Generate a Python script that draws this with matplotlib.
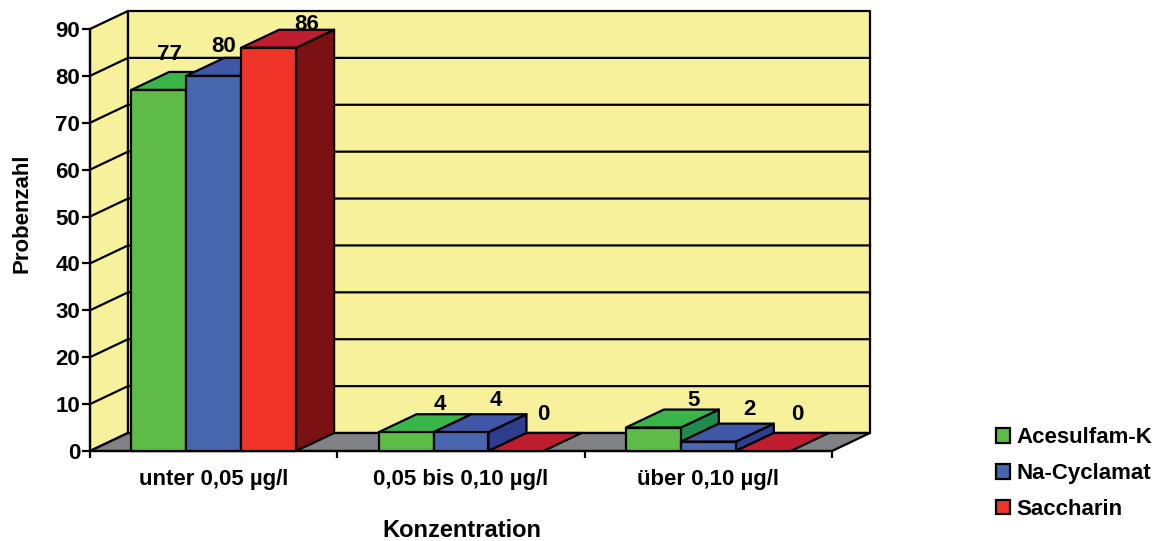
import matplotlib
matplotlib.use("Agg")
from matplotlib import pyplot as plt
from matplotlib.patches import Patch, Polygon

categories = ['unter 0,05 µg/l', '0,05 bis 0,10 µg/l', 'über 0,10 µg/l']
series = ['Acesulfam-K', 'Na-Cyclamat', 'Saccharin']
acesulfam = [77, 4, 5]
cyclamat = [80, 4, 2]
saccharin = [86, 0, 0]
values = [acesulfam, cyclamat, saccharin]
yticks = list(range(0, 100, 10))

# front, top, side shade of each series
colors = [('#5EBB47', '#39B54A', '#1E8C4B'),
          ('#4667AE', '#3F57A6', '#2E3E8F'),
          ('#EF3529', '#BE1E2D', '#7B1113')]
wall = '#F7F19B'
floor = '#808285'

# value label offsets in pixels from the centre of the bar top
label_shift = [[(-8, 26), (-9, 20), (19, 14)],
               [(15, 19), (16, 23), (8, 28)],
               [(21, 18), (22, 23), (15, 28)]]

W, H = 1162, 541
X0, X1, Y0, Y1 = 90, 832, 451, 29
lw = 1.6
fig = plt.figure(figsize=(W / 100, H / 100), dpi=100)
plt.rcParams['font.family'] = 'Liberation Sans'
plt.rcParams['font.weight'] = 'bold'
ax = fig.add_axes([X0 / W, 1 - Y0 / H, (X1 - X0) / W, (Y0 - Y1) / H])
ax.patch.set_visible(False)
ax.set_xlim(0, 3)
ax.set_ylim(0, 90)

# depth of the 3d box in data units
dx = 38 / ((X1 - X0) / 3)
dy = 18 / ((Y0 - Y1) / 90)


def face(points, color, z):
    ax.add_patch(Polygon(points, closed=True, facecolor=color, edgecolor='black',
                         linewidth=lw, joinstyle='round', clip_on=False, zorder=z))


# walls and floor
face([(0, 0), (dx, dy), (dx, 90 + dy), (0, 90)], wall, 1)
face([(dx, dy), (3 + dx, dy), (3 + dx, 90 + dy), (dx, 90 + dy)], wall, 1)
face([(0, 0), (3, 0), (3 + dx, dy), (dx, dy)], floor, 1.2)

for v in yticks[1:-1]:
    ax.plot([0, dx, 3 + dx], [v, v + dy, v + dy], color='black', lw=lw,
            clip_on=False, zorder=1.1)

# bars, left to right so neighbours overlap properly
bar_w = 1 / 4.5
margin = (1 - 3 * bar_w) / 2
z = 3
for c in range(len(categories)):
    for s in range(len(series)):
        v = values[s][c]
        left = c + margin + s * bar_w
        right = left + bar_w
        front, top, side = colors[s]
        if v > 0:
            face([(right, 0), (right + dx, dy), (right + dx, v + dy), (right, v)], side, z)
        face([(left, v), (right, v), (right + dx, v + dy), (left + dx, v + dy)], top, z + 0.1)
        if v > 0:
            face([(left, 0), (right, 0), (right, v), (left, v)], front, z + 0.2)
        z += 1
        ax.annotate(str(v), xy=(left + bar_w / 2 + dx / 2, v + dy / 2),
                    xytext=label_shift[c][s], textcoords='offset pixels',
                    ha='center', va='center', fontsize=16, fontweight='bold',
                    annotation_clip=False, zorder=60)

for name in ['top', 'right']:
    ax.spines[name].set_visible(False)
for name in ['left', 'bottom']:
    ax.spines[name].set_linewidth(lw)

ax.set_yticks(yticks)
ax.tick_params(axis='y', length=6, width=lw, pad=1, labelsize=16)
ax.set_xticks([0.5, 1.5, 2.5], categories)
ax.set_xticks([0, 1, 2, 3], minor=True)
ax.tick_params(axis='x', which='major', length=0, pad=13, labelsize=16)
ax.tick_params(axis='x', which='minor', length=5, width=lw)

ax.set_xlabel('Konzentration', fontsize=17, fontweight='bold')
ax.xaxis.set_label_coords(0.5013, -0.160)
ax.set_ylabel('Probenzahl', fontsize=16, fontweight='bold')
ax.yaxis.set_label_coords(-0.078, 0.564)

handles = [Patch(facecolor=colors[i][0], edgecolor='black', linewidth=lw) for i in range(3)]
fig.legend(handles, series, loc='lower left', bbox_to_anchor=(996 / W, 1 - 520 / H),
           frameon=False, fontsize=16, handlelength=0.63, handleheight=0.63,
           handletextpad=0.27, labelspacing=0.67, borderpad=0, borderaxespad=0)

fig.savefig('out.png', dpi=100)
